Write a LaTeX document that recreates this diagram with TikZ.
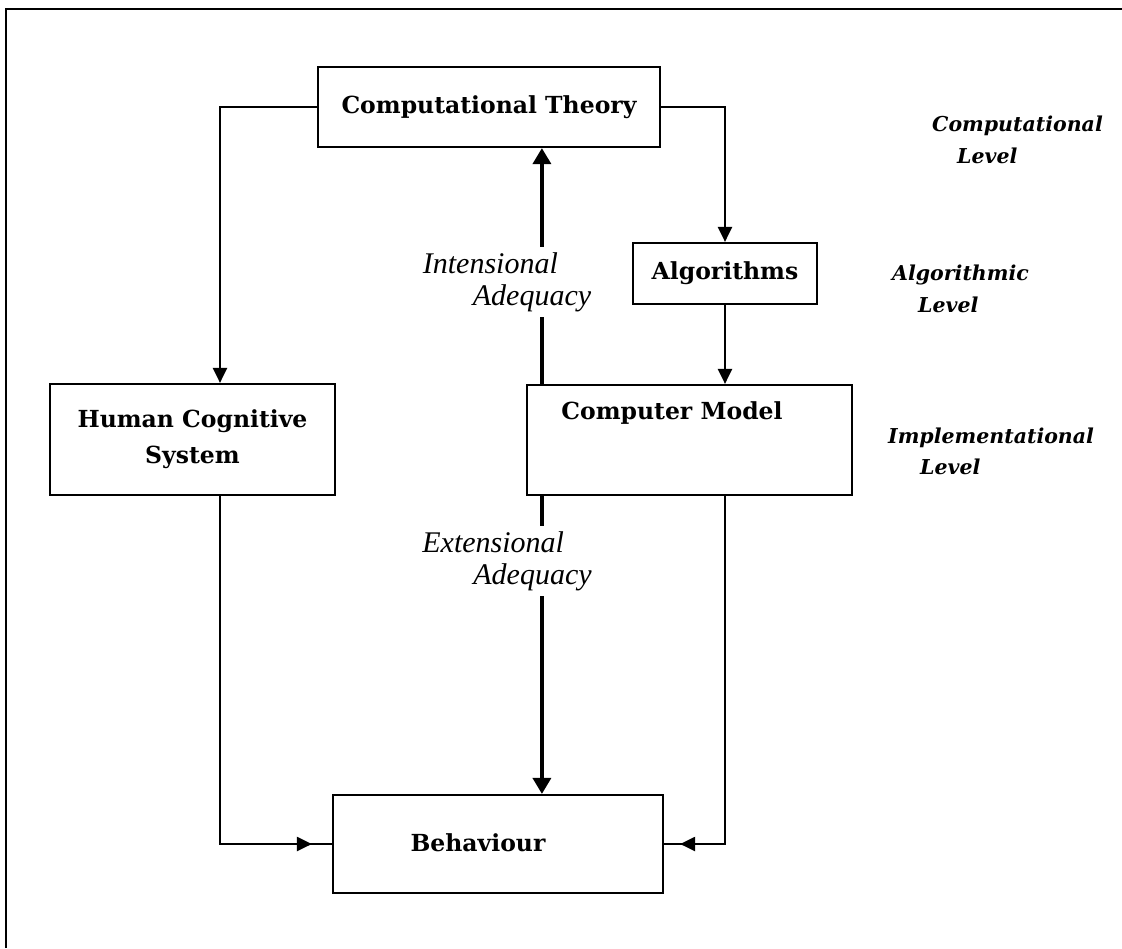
\documentclass[tikz,border=0pt]{standalone}
\usepackage{fontspec}
\setmainfont{DejaVu Serif}
\newfontfamily\adqfont{Liberation Serif}
\usetikzlibrary{arrows.meta,decorations.markings}
\begin{document}
\begin{tikzpicture}[x=1pt,y=-1pt,
  box/.style={draw,line width=2.2pt,inner sep=0pt,align=center,
    font=\fontsize{23.5}{36}\selectfont\bfseries},
  boxtext/.style={inner sep=0pt,font=\fontsize{23.5}{36}\selectfont\bfseries},
  conn/.style={line width=2.2pt,-{Triangle[length=15pt,width=14pt]}},
  plainconn/.style={line width=2.2pt},
  thick conn/.style={line width=3.5pt,-{Triangle[length=16pt,width=18pt]}},
  adq/.style={fill=white,inner xsep=2pt,inner ysep=5pt,align=left,
    font=\adqfont\itshape\fontsize{30}{32}\selectfont},
  lvl/.style={anchor=west,inner sep=0pt,
    font=\bfseries\itshape\fontsize{20.5}{28}\selectfont},
  midarrow/.style={postaction={decorate},decoration={markings,
    mark=at position #1 with {\arrow{Triangle[length=15pt,width=14pt]}}}}
]
\useasboundingbox (0,0) rectangle (1122,948);
% frame
\draw[line width=2.2pt] (6,948) -- (6,9) -- (1122,9);

% boxes
\node[box,minimum width=342pt,minimum height=80pt] (ct) at (489,107) {Computational Theory};
\node[box,minimum width=184pt,minimum height=61pt] (alg) at (725,273.5) {Algorithms};
\node[box,minimum width=285pt,minimum height=111pt] (hcs) at (192.5,439.5) {Human Cognitive\\System};
\node[box,minimum width=325pt,minimum height=110pt] (cm) at (689.5,440) {};
\node[boxtext] (cmtext) at (672,413) {Computer Model};
\node[box,minimum width=330pt,minimum height=98pt] (beh) at (498,844) {};
\node[boxtext] (behtext) at (478,843) {Behaviour};

% connectors
\draw[conn] (ct.west) -| ([xshift=27.5pt]hcs.north);
\draw[conn] (ct.east) -| (alg.north);
\coordinate (cmr) at (cm.north -| alg.south);
\draw[conn] (alg.south) -- (cmr);
\coordinate (cml) at ([xshift=16pt]cm.north west);
\draw[thick conn] (cml) -- (cml |- ct.south);
\coordinate (cmbl) at ([xshift=16pt]cm.south west);
\draw[thick conn] (cmbl) -- (cmbl |- beh.north);
\draw[plainconn,midarrow=-20pt] ([xshift=27.5pt]hcs.south) |- (beh.west);
\coordinate (cmbr) at (cm.south -| alg.south);
\draw[plainconn,midarrow=-16pt] (cmbr) |- (beh.east);

% adequacy labels
\node[adq] (intad) at (507,282) {Intensional\\\hspace*{50pt}Adequacy};
\node[adq] (extad) at (507,561) {Extensional\\\hspace*{51pt}Adequacy};

% level labels
\node[lvl] (cl1) at (932,126) {Computational};
\node[lvl] (cl2) at (957,156) {Level};
\node[lvl] (al1) at (892,275) {Algorithmic};
\node[lvl] (al2) at (918,305) {Level};
\node[lvl] (il1) at (888,438) {Implementational};
\node[lvl] (il2) at (920,467) {Level};
\end{tikzpicture}
\end{document}
